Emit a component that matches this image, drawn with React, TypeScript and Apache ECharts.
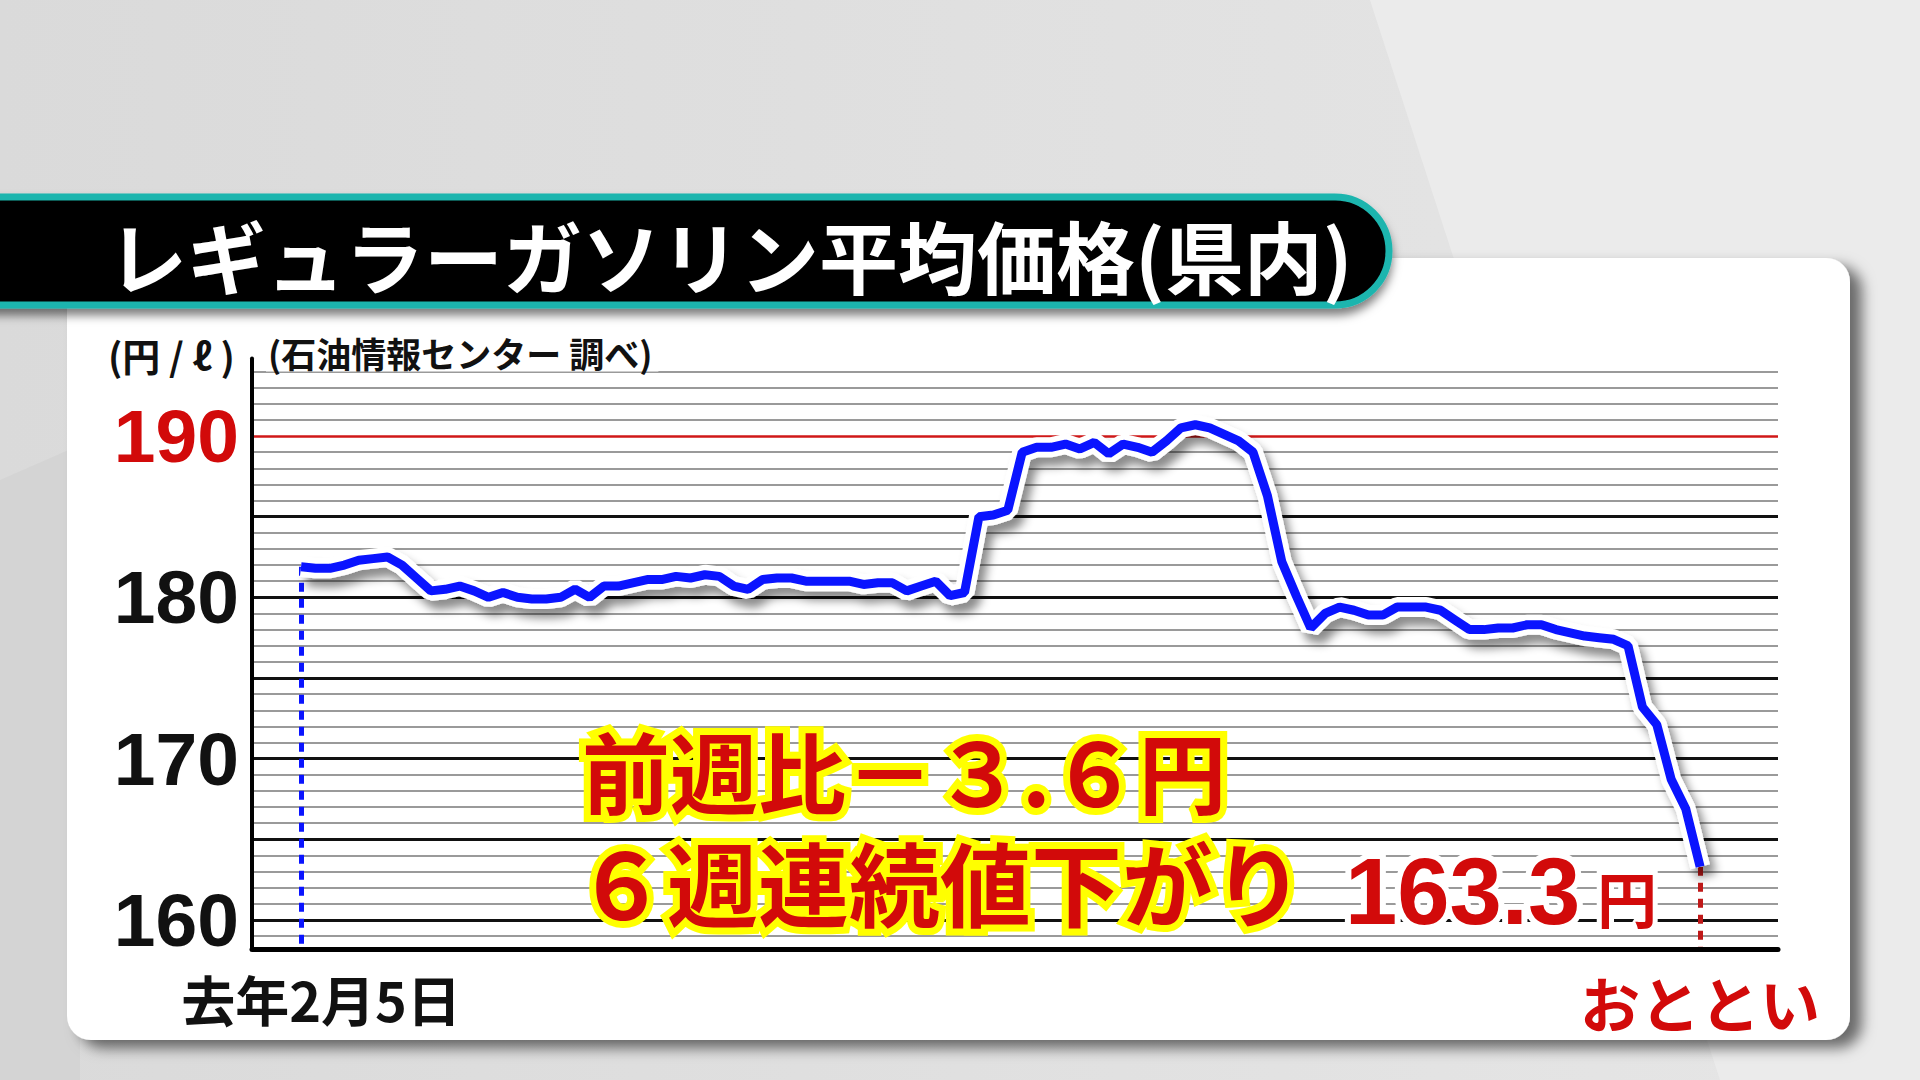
import React, { useEffect, useRef } from "react";
import * as echarts from "echarts";

// ---- data ----
const titleText = "レギュラーガソリン平均価格(県内)";
const unitText = "(円 / ℓ )";
const sourceText = "(石油情報センター 調べ)";
const xLabelIndex = [0, 97];
const xLabelText = ["去年2月5日", "おととい"];
const yLabelValues = [160, 170, 180, 190];
const majorGrid = [160, 165, 170, 175, 180, 185];
const redGrid = [190];
const minorGrid = [159, 161, 162, 163, 164, 166, 167, 168, 169, 171, 172, 173, 174, 176, 177, 178, 179, 181, 182, 183, 184, 186, 187, 188, 189, 191, 192, 193, 194];
const priceValues = [
  181.9, 181.8, 181.8, 182.0, 182.3, 182.4, 182.5, 182.0, 181.2, 180.4,
  180.5, 180.7, 180.4, 180.0, 180.3, 180.0, 179.9, 179.9, 180.0, 180.5,
  180.0, 180.7, 180.7, 180.9, 181.1, 181.1, 181.3, 181.2, 181.4, 181.3,
  180.7, 180.5, 181.1, 181.2, 181.2, 181.0, 181.0, 181.0, 181.0, 180.8,
  180.9, 180.9, 180.4, 180.7, 181.0, 180.1, 180.3, 185.0, 185.1, 185.4,
  189.0, 189.3, 189.3, 189.5, 189.2, 189.6, 188.9, 189.5, 189.3, 189.0,
  189.7, 190.5, 190.7, 190.5, 190.1, 189.7, 189.0, 186.3, 182.2, 180.1,
  178.1, 179.0, 179.4, 179.2, 178.9, 178.9, 179.4, 179.4, 179.4, 179.2,
  178.6, 178.0, 178.0, 178.1, 178.1, 178.3, 178.3, 178.0, 177.8, 177.6,
  177.5, 177.4, 177.0, 173.2, 172.1, 168.7, 166.9, 163.3,
];
const noteLines = ["前週比－３.６円", "６週連続値下がり"];
const lastValueText = "163.3";
const yenText = "円";

const Y_MIN = 158.2;
const Y_MAX = 194.8;

const JP = '"Noto Sans CJK JP", "Noto Sans", sans-serif';
const NUM = '"Liberation Sans", Arial, sans-serif';
const RED = "#d20a0a";

export default function App() {
  const ref = useRef<HTMLDivElement>(null);

  useEffect(() => {
    if (!ref.current) return;
    const chart = echarts.init(ref.current, null, { renderer: "svg" });
    const pts = priceValues.map((v, i) => [i, v]);
    const lastIdx = priceValues.length - 1;

    const gridLines: any[] = [
      ...minorGrid.map((v) => ({ yAxis: v, lineStyle: { color: "#9a9a9a", width: 2, type: "solid" } })),
      ...majorGrid.map((v) => ({ yAxis: v, lineStyle: { color: "#111", width: 3, type: "solid" } })),
      ...redGrid.map((v) => ({ yAxis: v, lineStyle: { color: "#d01818", width: 2.5, type: "solid" } })),
      [
        { coord: [0, priceValues[0]], lineStyle: { color: "#0a14ff", width: 5, type: [9, 7] } },
        { coord: [0, Y_MIN] },
      ],
      [
        { coord: [lastIdx, priceValues[lastIdx]], lineStyle: { color: "#c01818", width: 5, type: [9, 7] } },
        { coord: [lastIdx, Y_MIN] },
      ],
    ];

    const noteStyle = (text: string, size: number) => ({
      text,
      fill: RED,
      stroke: "#ffff00",
      lineWidth: 14,
      strokeFirst: true,
      fontSize: size,
      lineHeight: size,
      fontWeight: "bold",
      fontFamily: JP,
      verticalAlign: "middle",
      shadowBlur: 8,
      shadowColor: "rgba(0,0,0,0.35)",
      shadowOffsetY: 5,
    });

    const option: any = {
      animation: false,
      backgroundColor: "transparent",
      graphic: {
        elements: [
          {
            type: "rect",
            z: 0,
            shape: { x: 0, y: 0, width: 1920, height: 1080 },
            style: {
              fill: new echarts.graphic.LinearGradient(0, 0, 1, 0, [
                { offset: 0, color: "#dadada" },
                { offset: 1, color: "#e6e6e6" },
              ]),
            },
          },
          {
            type: "polygon",
            z: 0,
            shape: { points: [[1370, 0], [1920, 0], [1920, 1080], [1720, 1080]] },
            style: { fill: "#ebebeb" },
          },
          {
            type: "polygon",
            z: 0,
            shape: { points: [[0, 480], [80, 445], [80, 1080], [0, 1080]] },
            style: { fill: "#d4d4d4" },
          },
          {
            type: "rect",
            z: 1,
            shape: { x: 67, y: 258, width: 1783, height: 782, r: 24 },
            style: {
              fill: "#ffffff",
              shadowBlur: 14,
              shadowColor: "rgba(0,0,0,0.55)",
              shadowOffsetX: 12,
              shadowOffsetY: 8,
            },
          },
          {
            type: "rect",
            z: 20,
            shape: { x: -30, y: 197, width: 1419, height: 108, r: [0, 54, 54, 0] },
            style: {
              fill: "#000",
              stroke: "#1db5ae",
              lineWidth: 7,
              shadowBlur: 10,
              shadowColor: "rgba(0,0,0,0.5)",
              shadowOffsetY: 7,
            },
          },
          {
            type: "text",
            z: 21,
            x: 108,
            y: 254,
            style: {
              text: titleText,
              fill: "#fff",
              fontSize: 79,
              fontWeight: "bold",
              fontFamily: JP,
              verticalAlign: "middle",
            },
          },
          {
            type: "text",
            z: 21,
            x: 108,
            y: 354,
            style: {
              text: unitText,
              fill: "#111",
              fontSize: 38,
              fontWeight: "bold",
              fontFamily: JP,
              verticalAlign: "middle",
            },
          },
          {
            type: "text",
            z: 21,
            x: 266,
            y: 352,
            style: {
              text: sourceText,
              fill: "#111",
              fontSize: 35,
              fontWeight: "bold",
              fontFamily: JP,
              verticalAlign: "middle",
              backgroundColor: "#fff",
              padding: [2, 6, 2, 2],
            },
          },
          { type: "text", z: 30, x: 582, y: 768, style: noteStyle(noteLines[0], 88) },
          { type: "text", z: 30, x: 576, y: 880, style: noteStyle(noteLines[1], 91) },
          {
            type: "text",
            z: 30,
            x: 1345,
            y: 891,
            style: {
              text: lastValueText,
              fill: RED,
              stroke: "#fff",
              lineWidth: 12,
              strokeFirst: true,
              fontSize: 94,
              lineHeight: 94,
              fontWeight: "bold",
              fontFamily: NUM,
              verticalAlign: "middle",
              shadowBlur: 8,
              shadowColor: "rgba(0,0,0,0.3)",
              shadowOffsetY: 4,
            },
          },
          {
            type: "text",
            z: 30,
            x: 1597,
            y: 896,
            style: {
              text: yenText,
              fill: RED,
              stroke: "#fff",
              lineWidth: 10,
              strokeFirst: true,
              fontSize: 60,
              lineHeight: 60,
              fontWeight: "bold",
              fontFamily: JP,
              verticalAlign: "middle",
              shadowBlur: 8,
              shadowColor: "rgba(0,0,0,0.3)",
              shadowOffsetY: 4,
            },
          },
        ],
      },
      grid: { left: 252, top: 358.6, width: 1526, height: 590.4 },
      xAxis: {
        type: "value",
        z: 8,
        min: -3.4,
        max: 102.4,
        axisLine: { show: true, onZero: false, lineStyle: { color: "#000", width: 5 } },
        axisTick: { show: false },
        splitLine: { show: false },
        axisLabel: {
          customValues: xLabelIndex,
          margin: 22,
          formatter: (v: number) => {
            const k = xLabelIndex.indexOf(Math.round(v));
            if (k === 0) return "{a|" + xLabelText[0] + "}";
            if (k === 1) return "{b|" + xLabelText[1] + "}";
            return "";
          },
          rich: {
            a: { fontSize: 54, fontWeight: "bold", color: "#111", fontFamily: JP, padding: [0, 0, 0, 40] },
            b: { fontSize: 60, fontWeight: "bold", color: RED, fontFamily: JP },
          },
        },
      },
      yAxis: {
        type: "value",
        z: 8,
        min: Y_MIN,
        max: Y_MAX,
        axisLine: { show: true, onZero: false, lineStyle: { color: "#000", width: 4 } },
        axisTick: { show: false },
        splitLine: { show: false },
        axisLabel: {
          customValues: yLabelValues,
          margin: 13,
          formatter: (v: number) => (Math.round(v) === 190 ? "{r|" + Math.round(v) + "}" : "{k|" + Math.round(v) + "}"),
          rich: {
            r: { fontSize: 75, fontWeight: "bold", color: RED, fontFamily: NUM },
            k: { fontSize: 75, fontWeight: "bold", color: "#111", fontFamily: NUM },
          },
        },
      },
      series: [
        {
          type: "line",
          data: [],
          z: 2,
          silent: true,
          markLine: {
            z: 2,
            silent: true,
            symbol: "none",
            label: { show: false },
            animation: false,
            data: gridLines,
          },
        },
        {
          type: "line",
          data: pts,
          z: 5,
          symbol: "none",
          silent: true,
          lineStyle: {
            color: "#ffffff",
            width: 20,
            shadowBlur: 10,
            shadowColor: "rgba(0,0,0,0.45)",
            shadowOffsetX: 6,
            shadowOffsetY: 9,
          },
        },
        {
          type: "line",
          data: pts,
          z: 6,
          symbol: "none",
          silent: true,
          lineStyle: { color: "#0a14ff", width: 9 },
        },
      ],
    };

    chart.setOption(option);
    return () => chart.dispose();
  }, []);

  return (
    <div
      ref={ref}
      style={{ position: "absolute", left: 0, top: 0, width: 1920, height: 1080 }}
    />
  );
}
